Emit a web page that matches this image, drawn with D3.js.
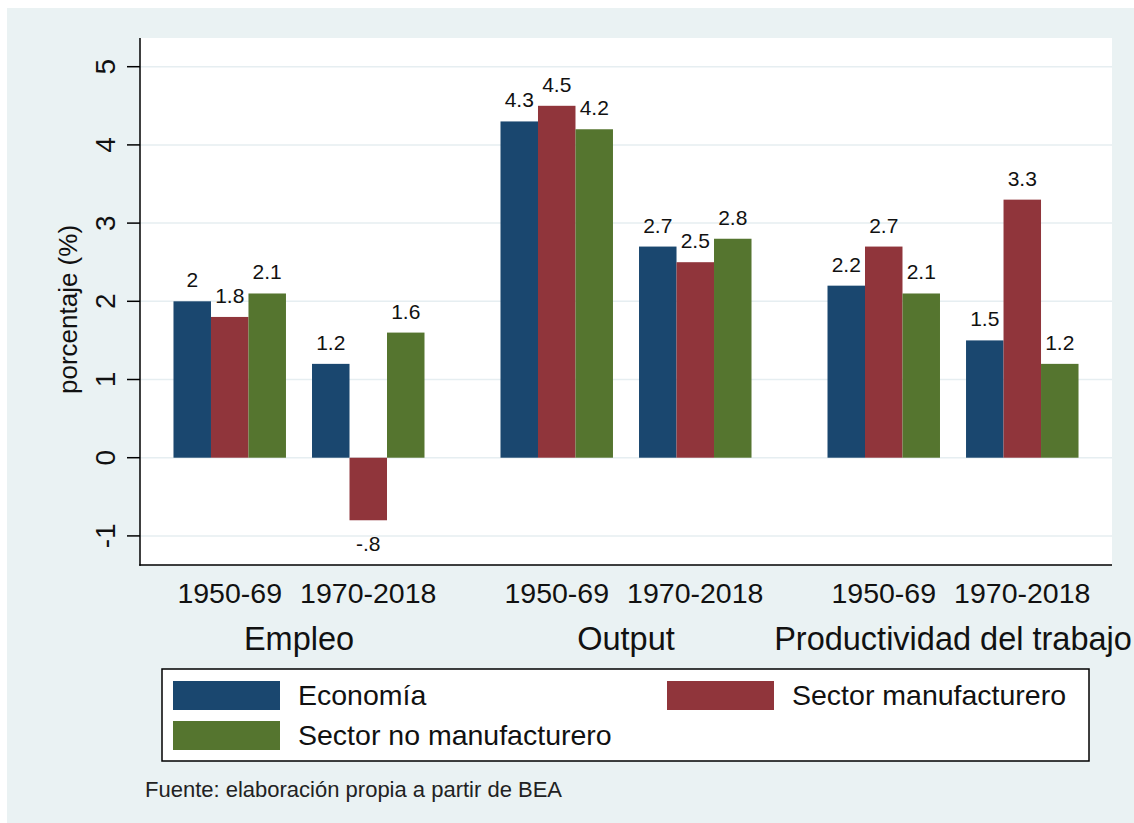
<!DOCTYPE html>
<html>
<head>
<meta charset="utf-8">
<script src="https://cdn.jsdelivr.net/npm/d3@7"></script>
<style>
  html, body { margin: 0; padding: 0; background: #ffffff; }
  svg { display: block; font-family: "Liberation Sans", Arial, sans-serif; }
</style>
</head>
<body>
<svg id="chart" width="1134" height="823"></svg>
<script>
// ---- Data ----
const groups = ["Empleo", "Output", "Productividad del trabajo"];
const periods = ["1950-69", "1970-2018"];
const seriesNames = ["Economía", "Sector manufacturero", "Sector no manufacturero"];
// values ordered: Empleo 1950-69, Empleo 1970-2018, Output 1950-69, Output 1970-2018, Prod 1950-69, Prod 1970-2018
const economia = [2, 1.2, 4.3, 2.7, 2.2, 1.5];
const manufacturero = [1.8, -0.8, 4.5, 2.5, 2.7, 3.3];
const noManufacturero = [2.1, 1.6, 4.2, 2.8, 2.1, 1.2];
const yTicks = [-1, 0, 1, 2, 3, 4, 5];
const yTitle = "porcentaje (%)";
const note = "Fuente: elaboración propia a partir de BEA";

const colors = ["#1a476f", "#90353b", "#55752f"];
const seriesValues = [economia, manufacturero, noManufacturero];

// ---- Layout ----
const svg = d3.select("#chart");
const plot = { left: 140, right: 1112, top: 38, bottom: 565 };

svg.append("rect").attr("x", 7).attr("y", 8).attr("width", 1127).attr("height", 815).attr("fill", "#eaf2f3");
svg.append("rect").attr("x", plot.left).attr("y", plot.top)
  .attr("width", plot.right - plot.left).attr("height", plot.bottom - plot.top).attr("fill", "#ffffff");

const y = d3.scaleLinear().domain([-1.372, 5.367]).range([plot.bottom, plot.top]);

const xGroup = d3.scaleBand().domain(groups).range([plot.left, plot.right])
  .paddingInner(0.2324).paddingOuter(0.1024);
const xPeriod = d3.scaleBand().domain(periods).range([0, xGroup.bandwidth()])
  .paddingInner(0.188).paddingOuter(0);
const xSeries = d3.scaleBand().domain(seriesNames).range([0, xPeriod.bandwidth()]).padding(0);

// rows
const rows = [];
groups.forEach((g, gi) => periods.forEach((p, pi) => {
  const idx = gi * periods.length + pi;
  seriesNames.forEach((s, si) => rows.push({ g, p, s, si, v: seriesValues[si][idx] }));
}));

// gridlines
svg.append("g").selectAll("line").data(yTicks).join("line")
  .attr("x1", plot.left).attr("x2", plot.right)
  .attr("y1", d => y(d)).attr("y2", d => y(d))
  .attr("stroke", "#e6eef1").attr("stroke-width", 1.5);

// bars
const fmt = d => String(d).replace(/^(-?)0\./, "$1.");
const bx = d => xGroup(d.g) + xPeriod(d.p) + xSeries(d.s);

svg.append("g").selectAll("rect").data(rows).join("rect")
  .attr("x", bx)
  .attr("width", xSeries.bandwidth())
  .attr("y", d => Math.min(y(d.v), y(0)))
  .attr("height", d => Math.abs(y(d.v) - y(0)))
  .attr("fill", d => colors[d.si]);

svg.append("g").selectAll("text").data(rows).join("text")
  .attr("x", d => bx(d) + xSeries.bandwidth() / 2)
  .attr("y", d => d.v >= 0 ? y(d.v) - 14 : y(d.v) + 31)
  .attr("text-anchor", "middle")
  .attr("font-size", 21).attr("fill", "#111")
  .text(d => fmt(d.v));

// y axis
const yAxisG = svg.append("g");
yAxisG.append("line").attr("x1", plot.left).attr("x2", plot.left)
  .attr("y1", plot.top).attr("y2", plot.bottom + 0.75).attr("stroke", "#000").attr("stroke-width", 1.5);
yAxisG.selectAll("line.tick").data(yTicks).join("line").attr("class", "tick")
  .attr("x1", plot.left - 13).attr("x2", plot.left)
  .attr("y1", d => y(d)).attr("y2", d => y(d))
  .attr("stroke", "#000").attr("stroke-width", 1.5);
yAxisG.selectAll("text.tl").data(yTicks).join("text").attr("class", "tl")
  .attr("transform", d => `translate(115,${y(d)}) rotate(-90)`)
  .attr("text-anchor", "middle").attr("font-size", 28).attr("fill", "#111")
  .text(d => d);
svg.append("text")
  .attr("transform", `translate(77,${(plot.top + plot.bottom) / 2 + 8}) rotate(-90)`)
  .attr("text-anchor", "middle").attr("font-size", 26).attr("fill", "#111")
  .text(yTitle);

// x axis
svg.append("line").attr("x1", plot.left - 0.75).attr("x2", plot.right)
  .attr("y1", plot.bottom).attr("y2", plot.bottom).attr("stroke", "#000").attr("stroke-width", 1.5);

const periodLabels = [];
groups.forEach(g => periods.forEach(p => periodLabels.push({ g, p })));
svg.append("g").selectAll("text").data(periodLabels).join("text")
  .attr("x", d => xGroup(d.g) + xPeriod(d.p) + xPeriod.bandwidth() / 2)
  .attr("y", 603)
  .attr("text-anchor", "middle").attr("font-size", 28.5).attr("fill", "#111")
  .text(d => d.p);
svg.append("g").selectAll("text").data(groups).join("text")
  .attr("x", d => xGroup(d) + xGroup.bandwidth() / 2)
  .attr("y", 650)
  .attr("text-anchor", "middle").attr("font-size", 32.5).attr("fill", "#111")
  .text(d => d);

// legend
const lg = svg.append("g");
lg.append("rect").attr("x", 162).attr("y", 669).attr("width", 927).attr("height", 92)
  .attr("fill", "#fff").attr("stroke", "#000").attr("stroke-width", 1.5);
const legendPos = [
  { x: 173, y: 681 },
  { x: 667, y: 681 },
  { x: 173, y: 721 }
];
seriesNames.forEach((s, i) => {
  const p = legendPos[i];
  lg.append("rect").attr("x", p.x).attr("y", p.y).attr("width", 107).attr("height", 29).attr("fill", colors[i]);
  lg.append("text").attr("x", p.x + 125).attr("y", p.y + 24)
    .attr("font-size", 28.5).attr("fill", "#111").text(s);
});

// note
svg.append("text").attr("x", 145).attr("y", 797).attr("font-size", 22).attr("fill", "#222").text(note);
</script>
</body>
</html>
